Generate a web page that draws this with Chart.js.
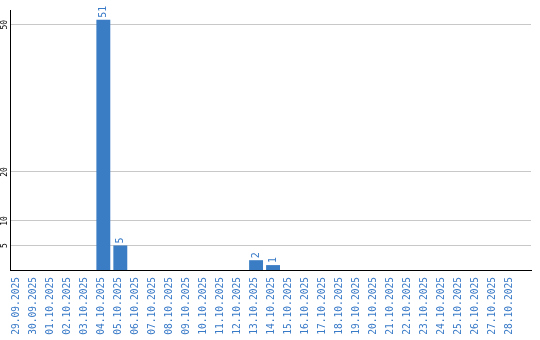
<!DOCTYPE html>
<html>
<head>
<meta charset="utf-8">
<script src="https://cdn.jsdelivr.net/npm/chart.js@4.4.0/dist/chart.umd.min.js"></script>
<style>
  html, body { margin: 0; padding: 0; background: #fff; }
  canvas { display: block; }
</style>
</head>
<body>
<canvas id="chart" width="540" height="340"></canvas>
<script>
// Days shown on the x axis
const days = [
    '29.09.2025', '30.09.2025', '01.10.2025', '02.10.2025', '03.10.2025',
    '04.10.2025', '05.10.2025', '06.10.2025', '07.10.2025', '08.10.2025',
    '09.10.2025', '10.10.2025', '11.10.2025', '12.10.2025', '13.10.2025',
    '14.10.2025', '15.10.2025', '16.10.2025', '17.10.2025', '18.10.2025',
    '19.10.2025', '20.10.2025', '21.10.2025', '22.10.2025', '23.10.2025',
    '24.10.2025', '25.10.2025', '26.10.2025', '27.10.2025', '28.10.2025'
];

// Count per day
const counts = [
    0, 0, 0, 0, 0,
    51, 5, 0, 0, 0,
    0, 0, 0, 0, 2,
    1, 0, 0, 0, 0,
    0, 0, 0, 0, 0,
    0, 0, 0, 0, 0
];

// Y axis tick values
const yTicks = [5, 10, 20, 50];

const blue = '#3a7dc5';
const labelBlue = '#3a7bc8';
const mono = 'DejaVu Sans Mono';

// Value labels drawn vertically above each bar
const barLabels = {
    id: 'barLabels',
    afterDatasetsDraw(chart) {
        const ctx = chart.ctx;
        const meta = chart.getDatasetMeta(0);
        ctx.save();
        ctx.font = '10px "' + mono + '"';
        ctx.fillStyle = labelBlue;
        ctx.textAlign = 'left';
        ctx.textBaseline = 'middle';
        meta.data.forEach((bar, i) => {
            if (!counts[i]) return;
            ctx.save();
            ctx.translate(bar.x, bar.y - 2);
            ctx.rotate(-Math.PI / 2);
            ctx.fillText(String(counts[i]), 0, 0);
            ctx.restore();
        });
        ctx.restore();
    }
};

new Chart(document.getElementById('chart'), {
    type: 'bar',
    data: {
        datasets: [{
            data: days.map((d, i) => ({ x: i, y: counts[i] })),
            backgroundColor: blue,
            borderWidth: 0,
            categoryPercentage: 1,
            barPercentage: 0.82
        }]
    },
    options: {
        responsive: false,
        animation: false,
        devicePixelRatio: 1,
        layout: { padding: { top: 10, right: 9, bottom: 0, left: 0 } },
        plugins: {
            legend: { display: false },
            tooltip: { enabled: false }
        },
        scales: {
            x: {
                type: 'linear',
                offset: false,
                min: -0.5,
                max: 30.2,
                afterBuildTicks(scale) {
                    scale.ticks = days.map((d, i) => ({ value: i }));
                },
                afterFit(scale) {
                    scale.paddingLeft = 0;
                    scale.paddingRight = 0;
                    scale.height = 70;
                },
                grid: { display: false, drawTicks: false },
                border: { display: true, color: '#000', width: 1 },
                ticks: {
                    autoSkip: false,
                    minRotation: 90,
                    maxRotation: 90,
                    padding: 7,
                    labelOffset: -1.5,
                    color: labelBlue,
                    font: { family: mono, size: 9.6 },
                    callback: (v) => days[v]
                }
            },
            y: {
                min: 0,
                max: 53,
                afterBuildTicks(scale) {
                    scale.ticks = yTicks.map(v => ({ value: v }));
                },
                afterFit(scale) {
                    scale.paddingTop = 0;
                    scale.paddingBottom = 0;
                    scale.width = 10;
                },
                grid: { color: '#c8c8c8', lineWidth: 1, drawTicks: false },
                border: { display: true, color: '#000', width: 1 },
                ticks: {
                    minRotation: 90,
                    crossAlign: 'center',
                    padding: 0,
                    color: '#000',
                    font: { family: mono, size: 8 }
                }
            }
        }
    },
    plugins: [barLabels]
});
</script>
</body>
</html>
